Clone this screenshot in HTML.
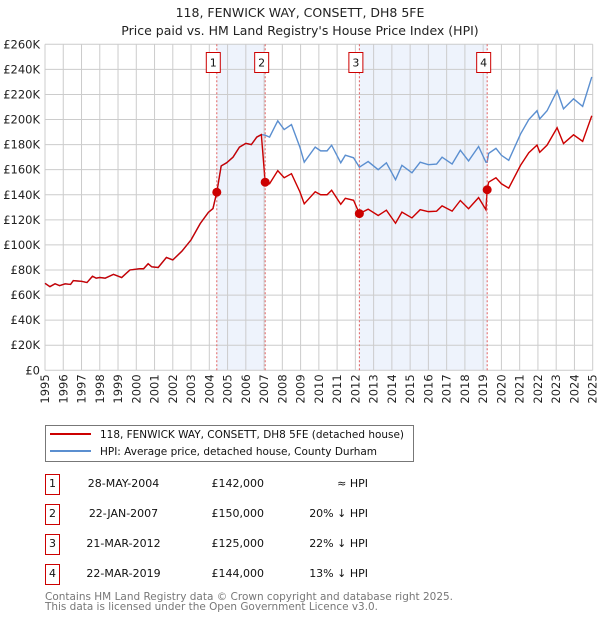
<!DOCTYPE html>
<html><head><meta charset="utf-8"><style>
body{margin:0;background:#fff;font-family:"DejaVu Sans","Liberation Sans",sans-serif}
svg text{font-family:"DejaVu Sans","Liberation Sans",sans-serif}
</style></head><body>
<svg id="chart" width="600" height="620" xmlns="http://www.w3.org/2000/svg">
<text x="300" y="17" text-anchor="middle" font-size="12.5" fill="#222">118, FENWICK WAY, CONSETT, DH8 5FE</text>
<text x="300" y="35" text-anchor="middle" font-size="12.5" fill="#222">Price paid vs. HM Land Registry's House Price Index (HPI)</text>
<g id="bands"></g><g id="grid"></g><g id="axes"></g><g id="series"></g><g id="marks"></g>
<g>
<rect x="45.5" y="425.5" width="368" height="36" fill="#fff" stroke="#777"/>
<line x1="50" y1="434" x2="91" y2="434" stroke="#cc0000" stroke-width="2"/>
<text x="100" y="438" font-size="11" fill="#111" textLength="304" lengthAdjust="spacingAndGlyphs">118, FENWICK WAY, CONSETT, DH8 5FE (detached house)</text>
<line x1="50" y1="451" x2="91" y2="451" stroke="#5b8fd0" stroke-width="2"/>
<text x="100" y="455" font-size="11" fill="#111" textLength="277" lengthAdjust="spacingAndGlyphs">HPI: Average price, detached house, County Durham</text>
</g>
<g id="table" font-size="11" fill="#111"></g>
<text x="45" y="600" font-size="11" fill="#777" textLength="408" lengthAdjust="spacingAndGlyphs">Contains HM Land Registry data © Crown copyright and database right 2025.</text>
<text x="45" y="610" font-size="11" fill="#777" textLength="333" lengthAdjust="spacingAndGlyphs">This data is licensed under the Open Government Licence v3.0.</text>
</svg>
<script>
const hpiYears=[1995.0,1995.27,1995.55,1995.8,1996.1,1996.4,1996.55,1997.0,1997.3,1997.6,1997.8,1998.0,1998.3,1998.75,1999.2,1999.65,2000.2,2000.4,2000.65,2000.85,2001.2,2001.65,2002.0,2002.5,2003.0,2003.5,2003.95,2004.2,2004.41,2004.65,2004.95,2005.3,2005.65,2006.0,2006.3,2006.6,2006.85,2007.06,2007.3,2007.75,2008.1,2008.5,2008.96,2009.2,2009.8,2010.1,2010.45,2010.7,2011.2,2011.45,2011.9,2012.22,2012.7,2013.25,2013.7,2014.2,2014.55,2015.1,2015.55,2016.0,2016.45,2016.75,2017.3,2017.75,2018.2,2018.75,2019.15,2019.22,2019.3,2019.7,2020.0,2020.4,2021.05,2021.5,2021.95,2022.1,2022.5,2023.05,2023.4,2023.95,2024.45,2024.95];
const hpiValues=[69.4,66.7,69,67.5,69,68.5,71.5,71,70,75,73.5,74,73.5,76.5,74,80,81,81,85,82.5,82,90,88,95,104,117,126,129,142,163,165.5,170,178,181,180,186,188,187.5,186,199,192,196,178,166,178,175,175,179.5,165.5,171.5,169.5,162,166.5,160,165.5,152,163.5,157.5,166,164,164.5,170,164.5,175.5,167,178.5,166,166,173,177,171.5,167.5,188.5,200,207,200.5,207,223,208.5,216.5,210.5,234];
const saleDates=[2004.41,2007.06,2012.22,2019.22];
const salePrices=[142,150,125,144];
const saleLabels=["28-MAY-2004","22-JAN-2007","21-MAR-2012","22-MAR-2019"];
const salePriceText=["£142,000","£150,000","£125,000","£144,000"];
const saleHpiText=["≈ HPI","20% ↓ HPI","22% ↓ HPI","13% ↓ HPI"];
const yTicks=[0,20,40,60,80,100,120,140,160,180,200,220,240,260];
const xTicks=[1995,1996,1997,1998,1999,2000,2001,2002,2003,2004,2005,2006,2007,2008,2009,2010,2011,2012,2013,2014,2015,2016,2017,2018,2019,2020,2021,2022,2023,2024,2025];

const NS="http://www.w3.org/2000/svg";
const X0=45,X1=592.7,Y0=370.3,Y1=44.3;
const xs=y=>X0+(y-1995)/30*(X1-X0);
const ys=v=>Y0-v/260*(Y0-Y1);
function mk(tag,attrs,parent,text){const e=document.createElementNS(NS,tag);for(const k in attrs)e.setAttribute(k,attrs[k]);if(text!==undefined)e.textContent=text;document.getElementById(parent).appendChild(e);return e;}
function hpiAt(t){for(let i=0;i<hpiYears.length-1;i++){if(t>=hpiYears[i]&&t<=hpiYears[i+1]){const f=(t-hpiYears[i])/(hpiYears[i+1]-hpiYears[i]);return hpiValues[i]+f*(hpiValues[i+1]-hpiValues[i]);}}return hpiValues[hpiValues.length-1];}
for(let i=0;i<saleDates.length;i+=2){
 const b=mk('rect',{x:xs(saleDates[i]),y:Y1,width:xs(saleDates[i+1])-xs(saleDates[i]),height:Y0-Y1,fill:'#eef3fc'},'bands');
 
 
}
xTicks.forEach(t=>{const l=mk('line',{x1:xs(t),x2:xs(t),y1:Y1,y2:Y0,stroke:'#cccccc','stroke-width':1},'grid');


const tx=mk('text',{x:0,y:0,transform:`translate(${xs(t)+4},${Y0+4}) rotate(-90)`,'text-anchor':'end','font-size':11.5,fill:'#222'},'axes',String(t));

});
yTicks.forEach(v=>{const l=mk('line',{x1:X0,x2:X1,y1:ys(v),y2:ys(v),stroke:'#cccccc','stroke-width':1},'grid');


const tx=mk('text',{x:40,y:ys(v)+4,'text-anchor':'end','font-size':11.5,fill:'#222'},'axes','£'+(v===0?'0':v+'K'));

});
const hp=mk('polyline',{points:hpiYears.map((t,i)=>xs(t)+','+ys(hpiValues[i])).join(' '),fill:'none',stroke:'#5b8fd0','stroke-width':1.4},'series');


let pts=[];
hpiYears.forEach((t,i)=>{let k=-1;for(let j=0;j<saleDates.length;j++)if(t>=saleDates[j]-1e-6)k=j;
 const r=k<0?salePrices[0]/hpiAt(saleDates[0]):salePrices[k]/hpiAt(saleDates[k]);
 pts.push(xs(t)+','+ys(hpiValues[i]*r));});
const pl=mk('polyline',{points:pts.join(' '),fill:'none',stroke:'#cc0000','stroke-width':1.4},'series');


saleDates.forEach((d,i)=>{
 const l=mk('line',{x1:xs(d),x2:xs(d),y1:Y1,y2:Y0,stroke:'#e06060','stroke-width':1,'stroke-dasharray':'2,2'},'marks');
 
 
 const c=mk('circle',{cx:xs(d),cy:ys(salePrices[i]),r:4.5,fill:'#cc0000'},'marks');
 
 
 const r=mk('rect',{x:xs(d)-10.5,y:52.5,width:14,height:20,fill:'#fff',stroke:'#cc0000'},'marks');
 
 
 const t=mk('text',{x:xs(d)-3.5,y:66.5,'text-anchor':'middle','font-size':11,fill:'#111'},'marks',String(i+1));
 
 
 const ry=485+i*30;
 const b=mk('rect',{x:45.5,y:ry-10.5,width:14,height:20,fill:'#fff',stroke:'#cc0000'},'table');
 
 
 const n=mk('text',{x:52.5,y:ry+2,'text-anchor':'middle'},'table',String(i+1));
 
 
 const dt=mk('text',{x:123.5,y:ry+2,'text-anchor':'middle'},'table',saleLabels[i]);
 
 
 const pr=mk('text',{x:264,y:ry+2,'text-anchor':'end'},'table',salePriceText[i]);
 
 
 const h=mk('text',{x:368,y:ry+2,'text-anchor':'end'},'table',saleHpiText[i]);
 
 
});
</script>
</body></html>
